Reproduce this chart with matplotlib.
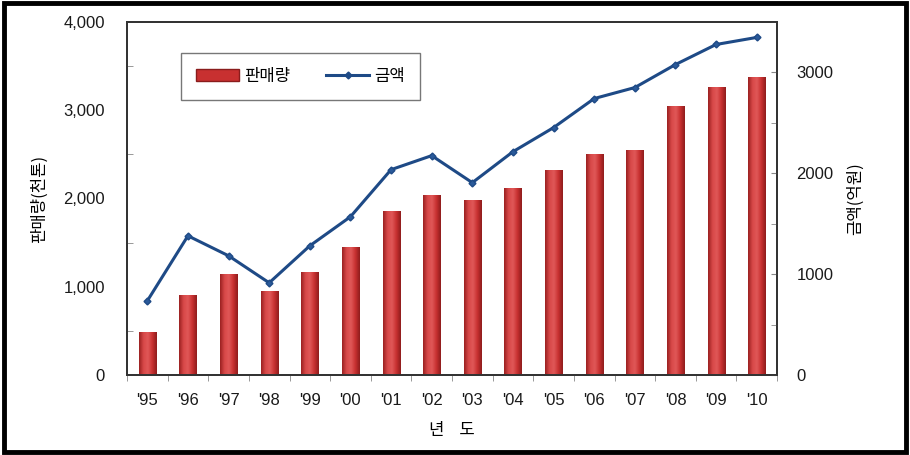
import matplotlib
matplotlib.use("Agg")
import matplotlib.pyplot as plt
import numpy as np
from matplotlib.patches import Rectangle, Patch
from matplotlib.lines import Line2D
from matplotlib.colors import LinearSegmentedColormap

plt.rcParams['font.family'] = ['Liberation Sans', 'Noto Sans CJK KR', 'DejaVu Sans']

years = ["'95", "'96", "'97", "'98", "'99", "'00", "'01", "'02", "'03", "'04",
         "'05", "'06", "'07", "'08", "'09", "'10"]
sales = [487, 906, 1144, 952, 1167, 1450, 1858, 2040, 1983, 2119,
         2323, 2504, 2550, 3048, 3263, 3377]
amount = [735, 1380, 1182, 914, 1281, 1569, 2036, 2175, 1907, 2214,
          2453, 2741, 2850, 3078, 3277, 3347]

fig = plt.figure(figsize=(9.1, 4.55), dpi=100)
fig.patches.append(Rectangle((0.004, 0.006), 0.992, 0.988, transform=fig.transFigure,
                             fill=False, edgecolor='black', linewidth=3.5))

ax = fig.add_axes([127/910, 1-375/455, 650/910, 353/455])
ax2 = ax.twinx()

x = np.arange(len(years))
bw = 0.42
bars = ax.bar(x, sales, width=bw, color='#c83030', edgecolor='#8a1c1c', linewidth=0.6, zorder=2)

cmap = LinearSegmentedColormap.from_list('cyl', ['#9a2020', '#d84848', '#e05858', '#c83030', '#8e1c1c'])
grad = np.linspace(0, 1, 64).reshape(1, -1)
for b in bars:
    bx, by = b.get_x(), b.get_y()
    w, h = b.get_width(), b.get_height()
    im = ax.imshow(grad, cmap=cmap, aspect='auto', extent=(bx, bx + w, by, by + h),
                   zorder=2.1, interpolation='bicubic')
    im.set_clip_path(b)

ax.set_xlim(-0.5, len(years) - 0.5)
ax.set_ylim(0, 4000)
ax.set_yticks([0, 1000, 2000, 3000, 4000])
ax.set_yticklabels(['0', '1,000', '2,000', '3,000', '4,000'])
ax.set_yticks([500, 1500, 2500, 3500], minor=True)
ax.set_xticks(x)
ax.set_xticklabels(years)
ax.set_xticks(np.arange(-0.5, len(years), 1.0), minor=True)

ax2.plot(x, amount, color='#1e4a86', linewidth=2.2, marker='D', markersize=3.5,
         markerfacecolor='#2a5a9a', markeredgecolor='#1e4a86', zorder=5)
ax2.set_ylim(0, 3500)
ax2.set_yticks([0, 1000, 2000, 3000])
ax2.set_yticks([500, 1500, 2500, 3500], minor=True)

for a in (ax, ax2):
    for s in a.spines.values():
        s.set_color('#333333')
        s.set_linewidth(1.3)

ax.tick_params(axis='y', which='major', length=0, labelsize=12, pad=16)
ax.tick_params(axis='y', which='minor', length=4, direction='in', color='#888888')
ax.tick_params(axis='x', which='major', length=0, labelsize=12, pad=13)
ax.tick_params(axis='x', which='minor', length=4, direction='out', color='#888888')
ax2.tick_params(axis='y', which='major', length=4, direction='in', labelsize=12, pad=14, color='#888888')
ax2.tick_params(axis='y', which='minor', length=4, direction='in', color='#888888')
for lab in ax.get_yticklabels() + ax.get_xticklabels() + ax2.get_yticklabels():
    lab.set_color('#1a1a1a')

ax.set_ylabel('판매량(천톤)', fontsize=12, family=['Noto Sans CJK KR'])
ax2.set_ylabel('금액(억원)', fontsize=12, family=['Noto Sans CJK KR'], rotation=90)
ax.set_xlabel('년    도', fontsize=12, family=['Noto Sans CJK KR'])
ax.yaxis.set_label_coords(-0.121, 0.5)
ax2.yaxis.set_label_coords(1.108, 0.5)
ax.xaxis.set_label_coords(0.5, -0.133)

handles = [Patch(facecolor='#c83030', edgecolor='#8a1c1c', label='판매량'),
           Line2D([0], [0], color='#1e4a86', lw=2.2, marker='D', markersize=3.5, label='금액')]
leg = ax2.legend(handles=handles, loc='center', bbox_to_anchor=(54/650, 1 - 81/353, 239/650, 53/353),
                 mode='expand', ncol=2, frameon=True, fancybox=False,
                 prop={'family': ['Noto Sans CJK KR'], 'size': 12},
                 borderaxespad=0, handlelength=2.6, handletextpad=0.3, columnspacing=1.5, borderpad=0.9)
leg.get_frame().set_edgecolor('#555555')
leg.get_frame().set_linewidth(1.0)

fig.savefig('out.png', dpi=100)
